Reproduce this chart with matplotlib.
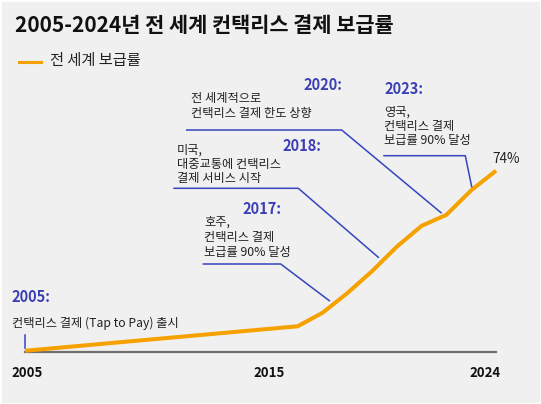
import matplotlib
matplotlib.use('Agg')
import matplotlib.pyplot as plt
from matplotlib.lines import Line2D
from matplotlib.patches import Rectangle

plt.rcParams['font.family'] = ['Noto Sans CJK KR', 'DejaVu Sans']

# data
years = [2005, 2016, 2017, 2018, 2019, 2020, 2021, 2022, 2023, 2024]
rate = [0.5, 10.5, 16, 24, 33, 43, 51.5, 56, 66, 74]

tick_years = [2005, 2015, 2024]
tick_labels = ['2005', '2015', '2024']

title = '2005-2024년 전 세계 컨택리스 결제 보급률'
legend_label = '전 세계 보급률'
last_label = '74%'

event_years = ['2005:', '2017:', '2018:', '2020:', '2023:']
event_texts = [
    ['컨택리스 결제 (Tap to Pay) 출시'],
    ['호주,', '컨택리스 결제', '보급률 90% 달성'],
    ['미국,', '대중교통에 컨택리스', '결제 서비스 시작'],
    ['전 세계적으로', '컨택리스 결제 한도 상향'],
    ['영국,', '컨택리스 결제', '보급률 90% 달성'],
]

W, H = 541, 404
ORANGE = '#f5a100'
BLUE = '#3a3fb5'
LEAD = '#3446bd'
TXT = '#222222'


def fx(x):
    return x / W


def fy(y):
    return 1 - y / H


fig = plt.figure(figsize=(W / 100, H / 100), dpi=100, facecolor='white')
fig.add_artist(Rectangle((fx(2), fy(402)), 537 / W, 400 / H,
                         transform=fig.transFigure, color='#f0f0f0', zorder=0))

ax = fig.add_axes([fx(25), fy(352), 471 / W, (352 - 170.7) / H])
ax.set_facecolor('none')
ax.set_xlim(2005, 2024)
ax.set_ylim(0, 74)
for s in ['top', 'left', 'right']:
    ax.spines[s].set_visible(False)
ax.spines['bottom'].set_color('#707070')
ax.spines['bottom'].set_linewidth(1.6)
ax.set_xticks([])
ax.set_yticks([])

ax.plot(years, rate, color=ORANGE, lw=2.9, clip_on=False, zorder=5,
        solid_joinstyle='miter', solid_capstyle='butt')

# x labels
offsets = [2.5, -4, -11]
for yr, lab, dx in zip(tick_years, tick_labels, offsets):
    ax.annotate(lab, xy=(yr, 0), xycoords=('data', 'axes fraction'),
                xytext=(dx, -21), textcoords='offset pixels',
                ha='center', va='center', fontsize=9.5, fontweight='bold',
                color='#111111')

# last value label
ax.annotate(last_label, xy=(years[-1], rate[-1]), xytext=(10, 12),
            textcoords='offset pixels', ha='center', va='center',
            fontsize=9.8, color=TXT, annotation_clip=False)

# title and legend
fig.text(fx(15), fy(26), title, fontsize=15, fontweight='bold',
         color='#111111', va='center', ha='left')
fig.add_artist(Line2D([fx(19), fx(40.5)], [fy(61.7), fy(61.7)],
                      transform=fig.transFigure, color=ORANGE, lw=2.2))
fig.text(fx(50), fy(61), legend_label, fontsize=11, color=TXT,
         va='center', ha='left')

# annotation layout (pixel positions)
year_pos = [(11.7, 297.3, 'left'), (281, 209, 'right'), (321, 146, 'right'),
            (342.7, 85, 'right'), (384, 89.3, 'left')]
text_pos = [(11.7, 323.3, 15), (204.3, 222.3, 15), (176.7, 150, 14.2),
            (190.7, 98.3, 15), (384, 112.3, 14.2)]
leaders = [
    [(25, 335), (25, 347.5)],
    [(203.3, 264), (280.7, 264), (329.3, 300.7)],
    [(174, 188.3), (298.3, 188.3), (378.3, 257.3)],
    [(186.7, 130), (341.7, 130), (441, 212.7)],
    [(384, 155.7), (465.3, 155.7), (471.7, 186.7)],
]

for ylab, lines, (yx, yy, ha), (tx, ty, step), pts in zip(
        event_years, event_texts, year_pos, text_pos, leaders):
    fig.text(fx(yx), fy(yy), ylab, fontsize=10.5, fontweight='bold',
             color=BLUE, ha=ha, va='center')
    for i, line in enumerate(lines):
        fig.text(fx(tx), fy(ty + i * step), line, fontsize=8.8, color=TXT,
                 ha='left', va='center')
    fig.add_artist(Line2D([fx(p[0]) for p in pts], [fy(p[1]) for p in pts],
                          transform=fig.transFigure, color=LEAD, lw=1.1))

fig.savefig('out.png', dpi=100, facecolor='white')
